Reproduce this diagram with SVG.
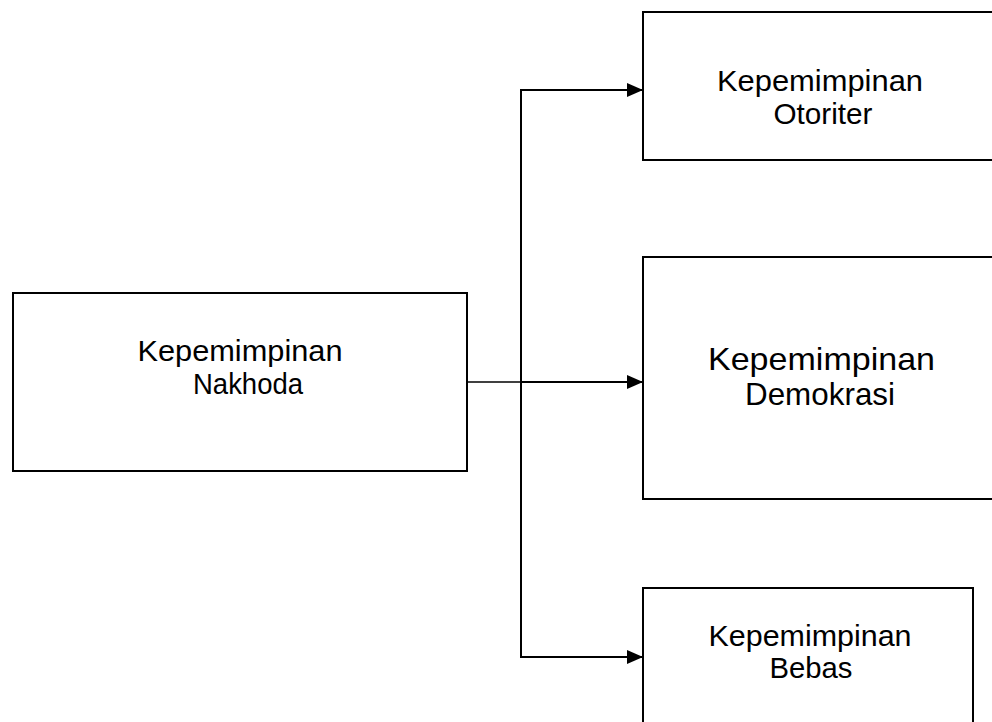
<svg xmlns="http://www.w3.org/2000/svg" width="992" height="722" viewBox="0 0 992 722">
<style>
.box{fill:#fff;stroke:#000;stroke-width:2}
.t{font-family:"Liberation Sans",Arial,sans-serif;font-size:30px;fill:#000;text-anchor:middle}
.tb{font-size:32px}
.c{fill:none;stroke:#000;stroke-width:2}
.c1{fill:none;stroke:#000;stroke-width:1.3}
</style>
<defs>
<marker id="ah" markerWidth="16" markerHeight="14" refX="16" refY="7" orient="auto" markerUnits="userSpaceOnUse">
<path d="M0,0 L16,7 L0,14 Z" fill="#000"/>
</marker>
</defs>
<rect width="992" height="722" fill="#fff"/>
<g id="connectors">
<line class="c1" x1="467" y1="382" x2="521" y2="382"/>
<line class="c" x1="521" y1="90" x2="521" y2="658"/>
<line class="c" x1="520" y1="90" x2="643" y2="90" marker-end="url(#ah)"/>
<line class="c" x1="521" y1="382" x2="643" y2="382" marker-end="url(#ah)"/>
<line class="c" x1="520" y1="657" x2="643" y2="657" marker-end="url(#ah)"/>
</g>
<g id="nakhoda">
<rect class="box" x="13" y="293" width="454" height="178"/>
<text class="t" x="240" y="361" textLength="205" lengthAdjust="spacingAndGlyphs">Kepemimpinan</text>
<text class="t" x="248" y="394" textLength="110" lengthAdjust="spacingAndGlyphs">Nakhoda</text>
</g>
<g id="otoriter">
<rect class="box" x="643" y="12" width="360" height="148"/>
<text class="t" x="820" y="91" textLength="206" lengthAdjust="spacingAndGlyphs">Kepemimpinan</text>
<text class="t" x="823" y="124" textLength="99" lengthAdjust="spacingAndGlyphs">Otoriter</text>
</g>
<g id="demokrasi">
<rect class="box" x="643" y="257" width="360" height="242"/>
<text class="t tb" x="821.5" y="370" textLength="227" lengthAdjust="spacingAndGlyphs">Kepemimpinan</text>
<text class="t tb" x="820" y="405" textLength="150" lengthAdjust="spacingAndGlyphs">Demokrasi</text>
</g>
<g id="bebas">
<rect class="box" x="643" y="588" width="330" height="150"/>
<text class="t" x="810" y="646" textLength="203" lengthAdjust="spacingAndGlyphs">Kepemimpinan</text>
<text class="t" x="811" y="678" textLength="83" lengthAdjust="spacingAndGlyphs">Bebas</text>
</g>
</svg>
